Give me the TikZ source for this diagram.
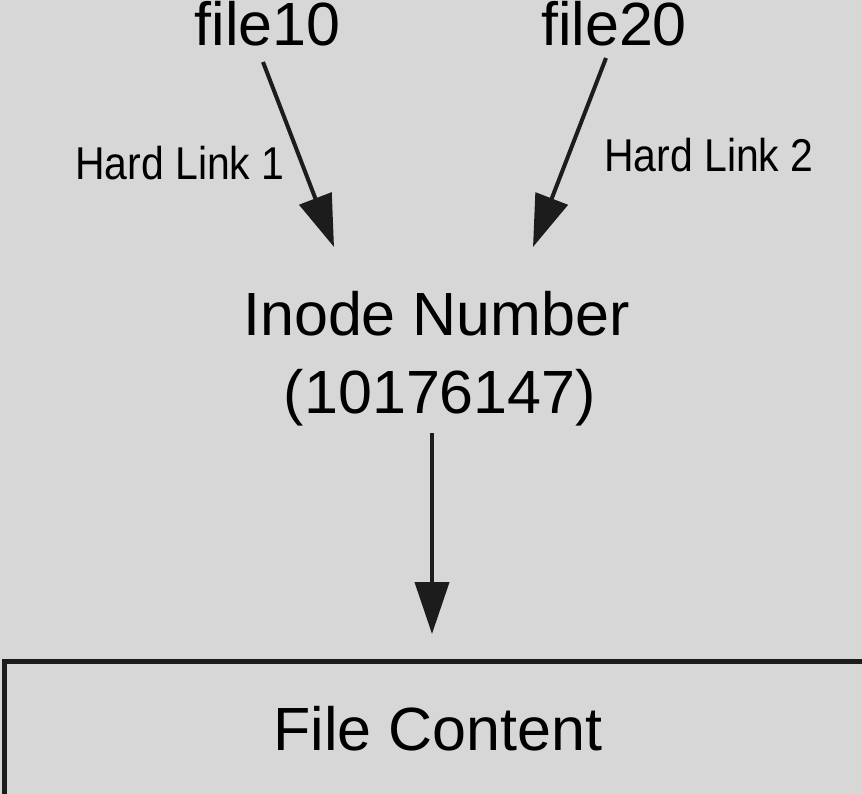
\documentclass[tikz,border=0pt]{standalone}
\usepackage{fontspec}
\setmainfont{Liberation Sans}
\newfontfamily\narrowfont{Liberation Sans}[FakeStretch=0.89]
\usepackage{tikz}
\usetikzlibrary{arrows.meta,calc}
\definecolor{bggray}{RGB}{215,215,215}
\definecolor{inkgray}{RGB}{28,28,28}
\tikzset{every picture/.append style={x=1pt,y=-1pt}}
\tikzset{bigtext/.style={inner sep=0pt, anchor=base, font=\fontsize{61}{70}\selectfont}}
\tikzset{linktext/.style={inner sep=0pt, anchor=base west, font=\narrowfont\fontsize{46}{50}\selectfont}}
\tikzset{link/.style={draw=inkgray, line width=4pt, -{Triangle[length=52pt,width=34pt]}}}
\tikzset{contentbox/.style={draw=inkgray, line width=4.5pt, rectangle, minimum width=900pt, minimum height=180pt, anchor=north west, inner sep=0pt}}

\begin{document}
\begin{tikzpicture}
  \fill[bggray] (0,0) rectangle (862,794);
  \useasboundingbox (0,0) rectangle (862,794);
  \clip (0,0) rectangle (862,794);

  \node[bigtext] (file10) at (267.5,46) {file10};
  \node[bigtext] (file20) at (614,46) {file20};
  \node[bigtext] (inode) at (436.5,335) {Inode Number};
  \node[bigtext] (number) at (440,413) {(10176147)};
  \node[contentbox] (box) at (2,659) {};
  \node[bigtext] (content) at (438,750) {File Content};

  \coordinate (tail1) at (263,62);
  \coordinate (tip1) at (334,247);
  \coordinate (tail2) at (606,58);
  \coordinate (tip2) at (533,247);
  \coordinate (tip3) at (432,634);

  \draw[link] (tail1) -- (tip1);
  \draw[link] (tail2) -- (tip2);
  \draw[link, shorten <=7pt] (number.south -| tip3) -- (tip3);

  \node[linktext] (hl1) at (75,180) {Hard Link 1};
  \node[linktext] (hl2) at (604,172) {Hard Link 2};
\end{tikzpicture}
\end{document}
